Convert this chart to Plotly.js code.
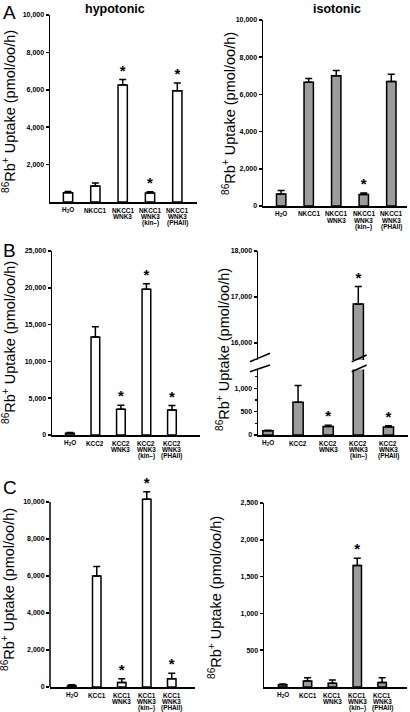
<!DOCTYPE html>
<html><head><meta charset="utf-8">
<script src="https://cdn.plot.ly/plotly-3.0.1.min.js"></script>
<style>html,body{margin:0;padding:0;background:#fff}#chart{width:410px;height:712px}</style>
</head><body><div id="chart"></div>
<script>
// ---- data ----
const nkcc1Labels = ['H<sub>2</sub>O', 'NKCC1', 'NKCC1<br>WNK3', 'NKCC1<br>WNK3<br>(kin–)', 'NKCC1<br>WNK3<br>(PHAII)'];
const kcc2Labels  = ['H<sub>2</sub>O', 'KCC2', 'KCC2<br>WNK3', 'KCC2<br>WNK3<br>(kin–)', 'KCC2<br>WNK3<br>(PHAII)'];
const kcc1Labels  = ['H<sub>2</sub>O', 'KCC1', 'KCC1<br>WNK3', 'KCC1<br>WNK3<br>(kin–)', 'KCC1<br>WNK3<br>(PHAII)'];

const hypoNKCC1      = [500, 850, 6250, 480, 5950];
const hypoNKCC1Err   = [60, 170, 300, 70, 420];
const hypoNKCC1Star  = [0, 0, 1, 1, 1];
const isoNKCC1       = [650, 6650, 7000, 620, 6700];
const isoNKCC1Err    = [180, 200, 280, 80, 380];
const isoNKCC1Star   = [0, 0, 0, 1, 0];

const hypoKCC2       = [250, 13300, 3500, 19800, 3400];
const hypoKCC2Err    = [100, 1400, 550, 750, 600];
const hypoKCC2Star   = [0, 0, 1, 1, 1];
const isoKCC2        = [90, 700, 180, 16850, 170];
const isoKCC2Err     = [10, 360, 30, 380, 30];
const isoKCC2Star    = [0, 0, 1, 1, 1];

const hypoKCC1       = [80, 6000, 250, 10150, 450];
const hypoKCC1Err    = [40, 520, 200, 400, 300];
const hypoKCC1Star   = [0, 0, 1, 1, 1];
const isoKCC1        = [30, 80, 50, 1650, 60];
const isoKCC1Err     = [10, 45, 45, 100, 65];
const isoKCC1Star    = [0, 0, 0, 1, 0];

const yTicksA   = [2000, 4000, 6000, 8000, 10000];
const yTicksA2  = [0, 2000, 4000, 6000, 8000, 10000];
const yTicksB   = [0, 5000, 10000, 15000, 20000, 25000];
const yTicksBlo = [0, 500, 1000];
const yTicksBhi = [16000, 17000, 18000];
const yTicksC   = [0, 2000, 4000, 6000, 8000, 10000];
const yTicksC2  = [500, 1000, 1500, 2000, 2500];

// ---- helpers ----
const W = 410, H = 712;
const px = v => v / W;
const py = v => 1 - v / H;
const FONT = 'Liberation Sans, Arial, Helvetica, sans-serif';
const WHITE = '#ffffff', GRAY = '#9c9c9c';

function panel(xa, ya, labels, vals, errs, stars, fill, range) {
  const idx = vals.map((v, i) => i).filter(i => stars[i] && vals[i] + errs[i] >= range[0] && vals[i] + errs[i] <= range[1]);
  return [
    {
      type: 'bar', x: labels, y: vals, xaxis: xa, yaxis: ya, width: 0.34,
      marker: {color: fill, line: {color: '#000', width: 1.5}},
      error_y: {type: 'data', array: errs, symmetric: false, color: '#000', thickness: 1.5, width: 3.5},
      hoverinfo: 'skip', showlegend: false
    },
    {
      type: 'scatter', mode: 'text',
      x: idx.map(i => labels[i]), y: idx.map(i => vals[i] + errs[i]),
      text: idx.map(() => '*'), textposition: 'top center',
      textfont: {family: FONT, size: 15, color: '#000', weight: 'bold'},
      xaxis: xa, yaxis: ya, cliponaxis: false, hoverinfo: 'skip', showlegend: false
    }
  ];
}

const data = [].concat(
  panel('x',  'y',  nkcc1Labels, hypoNKCC1, hypoNKCC1Err, hypoNKCC1Star, WHITE, [0, 10000]),
  panel('x2', 'y2', nkcc1Labels, isoNKCC1,  isoNKCC1Err,  isoNKCC1Star,  GRAY,  [0, 10000]),
  panel('x3', 'y3', kcc2Labels,  hypoKCC2,  hypoKCC2Err,  hypoKCC2Star,  WHITE, [0, 25000]),
  panel('x4', 'y4', kcc2Labels,  isoKCC2,   isoKCC2Err,   isoKCC2Star,   GRAY,  [0, 1400]),
  panel('x4', 'y5', kcc2Labels,  isoKCC2,   isoKCC2Err,   isoKCC2Star,   GRAY,  [15630, 18000]),
  panel('x6', 'y6', kcc1Labels,  hypoKCC1,  hypoKCC1Err,  hypoKCC1Star,  WHITE, [0, 10800]),
  panel('x7', 'y7', kcc1Labels,  isoKCC1,   isoKCC1Err,   isoKCC1Star,   GRAY,  [0, 2500])
);

const tickFont = {family: FONT, size: 7, color: '#000', weight: 'bold'};
function xAxis(d0, d1, anchor, range) {
  return {domain: [px(d0), px(d1)], anchor: anchor, type: 'category', range: range,
    showline: true, linecolor: '#000', linewidth: 1.5, ticks: '', showgrid: false, zeroline: false,
    showticklabels: false, fixedrange: true};
}
function yAxis(top, bottom, anchor, range, tickvals, extra) {
  return Object.assign({domain: [py(bottom), py(top)], anchor: anchor, range: range,
    tickvals: tickvals, tickformat: ',d', showline: true, linecolor: '#000', linewidth: 1.5,
    ticks: 'outside', ticklen: 3, tickwidth: 1.5, tickcolor: '#000', showgrid: false, zeroline: false,
    tickfont: tickFont, fixedrange: true}, extra || {});
}

// category labels, one text per line for tight line spacing
function catLabels(xa, ya, labels) {
  const out = [];
  labels.forEach((lab, i) => {
    lab.split('<br>').forEach((line, k) => {
      out.push({text: line, x: i, y: 0, xref: xa, yref: ya, showarrow: false,
        xanchor: 'center', yanchor: 'middle', yshift: -(8 + k * 6.6), borderpad: 0,
        font: {family: FONT, size: 6.4, color: '#000', weight: 'bold'}});
    });
  });
  return out;
}

const yTitle = '<sup>86</sup>Rb<sup>+</sup> Uptake (pmol/oo/h)';
function titleAnn(x, y) {
  return {text: yTitle, x: px(x), y: py(y), xref: 'paper', yref: 'paper', textangle: -90,
    showarrow: false, xanchor: 'center', yanchor: 'middle', font: {family: FONT, size: 14.5, color: '#000'}};
}
function textAnn(t, x, y, size, weight, xanchor) {
  return {text: t, x: px(x), y: py(y), xref: 'paper', yref: 'paper', showarrow: false,
    xanchor: xanchor || 'center', yanchor: 'middle', font: {family: FONT, size: size, color: '#000', weight: weight}};
}
function brk(x0, x1, y0, y1) {
  return {type: 'line', xref: 'paper', yref: 'paper', x0: px(x0), x1: px(x1), y0: py(y0), y1: py(y1),
    line: {color: '#000', width: 1.5}, layer: 'above'};
}

const layout = {
  width: W, height: H, margin: {l: 0, r: 0, t: 0, b: 0},
  paper_bgcolor: '#fff', plot_bgcolor: 'rgba(0,0,0,0)', showlegend: false,
  font: {family: FONT, color: '#000'}, bargap: 0,
  xaxis:  xAxis(50, 197, 'y',  [-0.66, 4.72]),
  yaxis:  yAxis(15, 202, 'x',  [0, 10000], yTicksA),
  xaxis2: xAxis(263, 407, 'y2', [-0.66, 4.57]),
  yaxis2: yAxis(20, 206, 'x2', [0, 10000], yTicksA2),
  xaxis3: xAxis(52, 200, 'y3', [-0.7, 5.1]),
  yaxis3: yAxis(251, 435, 'x3', [0, 25000], yTicksB),
  xaxis4: xAxis(258, 408, 'y4', [-0.33, 4.65]),
  yaxis4: yAxis(369.6, 435, 'x4', [0, 1400], yTicksBlo, {minor: {dtick: 250, ticks: 'outside', ticklen: 2, tickwidth: 1.2, tickcolor: '#000'}}),
  yaxis5: yAxis(251, 360, 'x4', [15630, 18000], yTicksBhi),
  xaxis6: xAxis(50, 195, 'y6', [-0.87, 4.93]),
  yaxis6: yAxis(487.2, 687, 'x6', [0, 10800], yTicksC, {showline: false}),
  xaxis7: xAxis(264, 407, 'y7', [-0.75, 5.0]),
  yaxis7: yAxis(503, 687, 'x7', [0, 2500], yTicksC2),
  annotations: [
    textAnn('hypotonic', 115, 9, 12.5, 'bold'),
    textAnn('isotonic', 337, 9, 12.5, 'bold'),
    textAnn('A', 1, 12, 19, 'normal', 'left'),
    textAnn('B', 1, 251, 19, 'normal', 'left'),
    textAnn('C', 1, 487, 19, 'normal', 'left'),
    titleAnn(9, 112), titleAnn(229, 114),
    titleAnn(9, 343), titleAnn(223, 350),
    titleAnn(8, 590), titleAnn(215, 598)
  ].concat(
    catLabels('x', 'y', nkcc1Labels),
    catLabels('x2', 'y2', nkcc1Labels),
    catLabels('x3', 'y3', kcc2Labels),
    catLabels('x4', 'y4', kcc2Labels),
    catLabels('x6', 'y6', kcc1Labels),
    catLabels('x7', 'y7', kcc1Labels)
  ),
  shapes: [
    {type: 'line', xref: 'x6 domain', yref: 'y6', x0: 0, x1: 0, y0: 0, y1: 10000, line: {color: '#000', width: 1.5}},
    brk(250, 270, 361.7, 353.3), brk(250, 270, 371.7, 365),
    brk(351.7, 366.7, 361.7, 355), brk(351.7, 366.7, 371.7, 365)
  ]
};

Plotly.newPlot('chart', data, layout, {displayModeBar: false, staticPlot: true});
</script>
</body></html>
